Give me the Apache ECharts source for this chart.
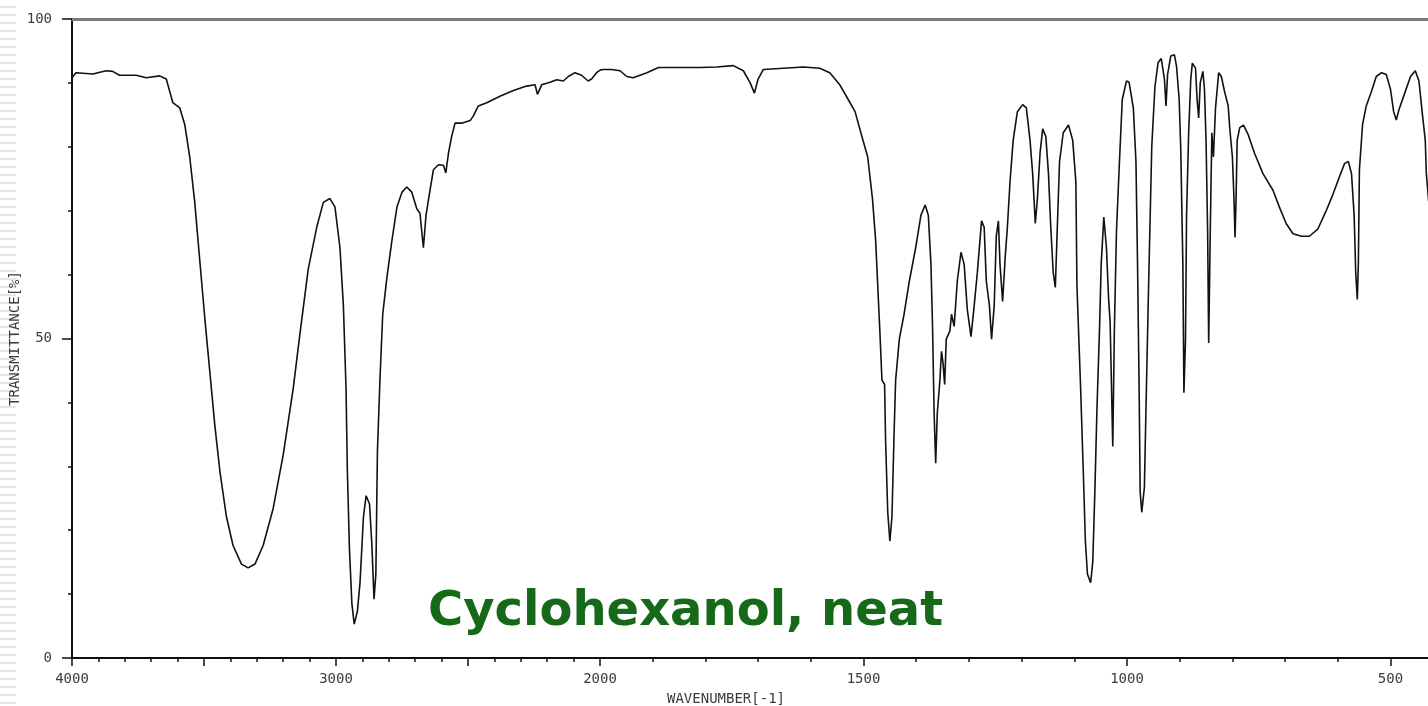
<!DOCTYPE html>
<html>
<head>
<meta charset="utf-8">
<script src="https://cdn.jsdelivr.net/npm/echarts@6/dist/echarts.min.js"></script>
<style>
  html, body { margin: 0; padding: 0; background: #ffffff; }
  #edge {
    position: absolute; left: 0; top: 0; width: 16px; height: 706px;
    background: repeating-linear-gradient(to bottom, #ffffff 0px, #ffffff 6px, #e6e6e6 6px, #e6e6e6 8px);
  }
  #chart { position: absolute; left: 0; top: 0; width: 1428px; height: 706px; }
</style>
</head>
<body>
<div id="edge"></div>
<div id="chart"></div>
<script>
// IR spectrum of cyclohexanol (neat). The wavenumber axis is split at 2000 cm-1:
// 4000-2000 is drawn at half the scale of 2000-400.

// 4000 - 2000 cm-1 region
const highWavenumber = [
  4000, 3985, 3921, 3871, 3846, 3820, 3757, 3719, 3668, 3643, 3630, 3618, 3592, 3573, 3554,
  3535, 3516, 3497, 3478, 3459, 3440, 3415, 3390, 3358, 3333, 3307, 3276, 3238, 3200, 3162,
  3137, 3105, 3073, 3048, 3023, 3004, 2985, 2972, 2962, 2957, 2949, 2940, 2931, 2919, 2909,
  2896, 2886, 2873, 2864, 2856, 2849, 2843, 2833, 2823, 2807, 2788, 2769, 2750, 2732, 2713,
  2694, 2682, 2669, 2659, 2644, 2631, 2612, 2593, 2584, 2574, 2562, 2549, 2524, 2492, 2480,
  2461, 2429, 2379, 2328, 2278, 2246, 2237, 2221, 2189, 2164, 2139, 2120, 2095, 2070, 2045,
  2032, 2013, 2000
];
const highTransmittance = [
  90.8, 91.6, 91.4, 91.9, 91.8, 91.2, 91.2, 90.8, 91.1, 90.6, 88.7, 86.9, 86.1, 83.5, 78.4,
  71.3, 62.2, 53.2, 44.8, 36.4, 29.3, 22.1, 17.6, 14.7, 14.1, 14.7, 17.6, 23.4, 31.8, 42.2,
  50.6, 60.9, 67.4, 71.3, 71.9, 70.6, 64.2, 55.1, 42.2, 29.3, 17.0, 8.6, 5.3, 7.3, 11.8,
  22.1, 25.4, 24.1, 17.6, 9.2, 13.1, 32.5, 44.1, 53.8, 59.6, 65.4, 70.6, 72.9, 73.7, 72.9,
  70.3, 69.6, 64.2, 69.3, 73.2, 76.4, 77.2, 77.1, 75.9, 79.0, 81.6, 83.7, 83.7, 84.1, 84.8,
  86.4, 86.9, 87.9, 88.8, 89.5, 89.7, 88.2, 89.7, 90.1, 90.5, 90.3, 91.0, 91.6, 91.2, 90.3,
  90.6, 91.6, 92.0
];

// 2000 - 400 cm-1 region (fingerprint)
const lowWavenumber = [
  2000, 1994, 1978, 1962, 1949, 1937, 1911, 1889, 1842, 1810, 1779, 1747, 1728, 1715, 1707,
  1700, 1690, 1652, 1614, 1583, 1564, 1545, 1529, 1516, 1503, 1492, 1483, 1477, 1473, 1469,
  1465, 1460, 1458, 1454, 1450, 1446, 1442, 1439, 1432, 1423, 1413, 1401, 1391, 1383, 1377,
  1372, 1369, 1366, 1363, 1360, 1355, 1352, 1349, 1346, 1343, 1336, 1333, 1328, 1322, 1315,
  1309, 1303, 1296, 1290, 1284, 1276, 1271, 1267, 1261, 1257, 1252, 1248, 1244, 1241, 1236,
  1231, 1227, 1222, 1216, 1208, 1198, 1191, 1184, 1179, 1174, 1170, 1165, 1160, 1154, 1149,
  1145, 1140, 1136, 1132, 1128, 1121, 1111, 1103, 1097, 1095, 1088, 1083, 1079, 1075, 1069,
  1065, 1061, 1057, 1052, 1049, 1044, 1039, 1035, 1032, 1027, 1024, 1020, 1015, 1009, 1001,
  996, 988, 983, 980, 977, 975, 972, 967, 964, 959, 953, 947, 941, 935, 929,
  926, 923, 917, 910, 906, 901, 898, 894, 892, 889, 887, 883, 879, 876, 870,
  867, 864, 861, 856, 853, 850, 847, 845, 842, 839, 836, 832, 826, 821, 815,
  808, 805, 800, 797, 795, 793, 791, 786, 779, 770, 758, 742, 723, 711, 698,
  685, 669, 654, 638, 622, 609, 596, 587, 580, 574, 569, 566, 563, 561, 559,
  553, 546, 536, 527, 517, 508, 500, 494, 489, 484, 473, 462, 453, 446, 440,
  434, 432, 426
];
const lowTransmittance = [
  92.0, 92.1, 92.1, 91.9, 91.0, 90.8, 91.6, 92.4, 92.4, 92.4, 92.5, 92.7, 91.9, 90.0, 88.4,
  90.6, 92.1, 92.3, 92.5, 92.3, 91.6, 89.7, 87.4, 85.5, 81.6, 78.4, 71.9, 65.4, 58.3, 51.2,
  43.5, 42.8, 33.8, 22.8, 18.3, 22.1, 35.1, 43.5, 49.9, 53.8, 59.0, 64.2, 69.3, 70.9, 69.3,
  61.6, 51.9, 38.3, 30.5, 38.3, 43.5, 48.0, 46.1, 42.8, 49.9, 51.2, 53.8, 51.9, 59.0, 63.5,
  61.6, 54.5, 50.3, 55.1, 60.3, 68.4, 67.4, 59.0, 55.1, 49.9, 55.1, 66.1, 68.4, 61.6, 55.8,
  62.9, 67.4, 74.5, 81.0, 85.5, 86.6, 86.1, 81.0, 75.8, 68.0, 71.9, 79.0, 82.8, 81.6, 75.8,
  68.0, 60.3, 58.0, 68.0, 77.7, 82.2, 83.4, 81.0, 74.5, 58.3, 42.2, 29.3, 18.3, 13.1, 11.8,
  15.0, 26.0, 39.0, 51.9, 61.6, 69.0, 64.2, 56.4, 52.5, 33.1, 51.2, 66.7, 76.4, 87.4, 90.3,
  90.1, 86.1, 77.7, 61.6, 42.2, 26.0, 22.8, 26.7, 39.0, 58.3, 80.0, 89.4, 93.2, 93.8, 90.6,
  86.4, 91.3, 94.2, 94.4, 92.6, 87.4, 79.7, 61.6, 41.5, 49.9, 69.3, 82.2, 90.6, 93.1, 92.3,
  87.4, 84.5, 90.0, 91.8, 89.0, 81.0, 66.7, 49.3, 66.7, 82.2, 78.4, 86.1, 91.6, 91.0, 88.7,
  86.4, 82.9, 78.4, 71.9, 65.8, 71.9, 81.0, 83.0, 83.4, 81.9, 79.0, 75.8, 73.2, 70.6, 68.0,
  66.4, 66.0, 66.0, 67.1, 70.0, 72.6, 75.5, 77.4, 77.7, 75.8, 69.3, 60.3, 56.1, 61.6, 76.4,
  83.5, 86.4, 88.7, 91.0, 91.6, 91.3, 89.0, 85.5, 84.2, 85.8, 88.4, 91.0, 91.9, 90.3, 85.5,
  81.0, 75.8, 70.0
];

const yTickLabels = { 0: '0', 50: '50', 100: '100' };
const highTickLabels = [4000, 3000, 2000];
const lowTickLabels = [1500, 1000, 500];

const chartTitle = 'Cyclohexanol, neat';
const xName = 'WAVENUMBER[-1]';
const yName = 'TRANSMITTANCE[%]';

const pair = (xs, ys) => xs.map((x, i) => [x, ys[i]]);

const ink = '#111111';
const tickFont = { fontFamily: 'DejaVu Sans Mono', fontSize: 14, color: '#3c3c3c' };

function bottomAxis(gridIndex, min, max, shown) {
  return {
    type: 'value', gridIndex, min, max, interval: 500, inverse: true, position: 'bottom',
    axisLine: { show: true, onZero: false, lineStyle: { color: ink, width: 2 } },
    axisTick: { show: true, length: 8, lineStyle: { color: ink, width: 1.5 } },
    minorTick: { show: true, splitNumber: 5, length: 4, lineStyle: { color: ink, width: 1.5 } },
    splitLine: { show: false },
    axisLabel: Object.assign({
      margin: 14, showMinLabel: true, showMaxLabel: true, hideOverlap: false,
      formatter: v => (shown.indexOf(v) >= 0 ? String(v) : '')
    }, tickFont)
  };
}

function topAxis(gridIndex, min, max) {
  return {
    type: 'value', gridIndex, min, max, inverse: true, position: 'top',
    axisLine: { show: true, onZero: false, lineStyle: { color: '#7a7a7a', width: 3 } },
    axisTick: { show: false }, axisLabel: { show: false }, splitLine: { show: false }
  };
}

const chart = echarts.init(document.getElementById('chart'), null, { renderer: 'canvas' });

chart.setOption({
  animation: false,
  backgroundColor: 'transparent',
  grid: [
    { left: 72, top: 19, width: 528, height: 639, outerBoundsMode: 'none', containLabel: false },
    { left: 600, top: 19, width: 1054, height: 639, outerBoundsMode: 'none', containLabel: false }
  ],
  xAxis: [
    bottomAxis(0, 2000, 4000, highTickLabels),
    bottomAxis(1, 0, 2000, lowTickLabels),
    topAxis(0, 2000, 4000),
    topAxis(1, 0, 2000)
  ],
  yAxis: [
    {
      type: 'value', gridIndex: 0, min: 0, max: 100, interval: 50,
      name: yName, nameLocation: 'middle', nameGap: 44,
      nameTextStyle: { fontFamily: 'DejaVu Sans Mono', fontSize: 14, color: '#3c3c3c' },
      axisLine: { show: true, onZero: false, lineStyle: { color: ink, width: 2 } },
      axisTick: { show: true, length: 10, lineStyle: { color: ink, width: 1.5 } },
      minorTick: { show: true, splitNumber: 5, length: 4, lineStyle: { color: ink, width: 1.5 } },
      splitLine: { show: false },
      axisLabel: Object.assign({ margin: 20, formatter: v => yTickLabels[v] || '' }, tickFont)
    },
    { type: 'value', gridIndex: 1, min: 0, max: 100, show: false }
  ],
  series: [
    {
      type: 'line', xAxisIndex: 0, yAxisIndex: 0,
      data: pair(highWavenumber, highTransmittance),
      showSymbol: false, smooth: false,
      lineStyle: { color: ink, width: 1.6 }
    },
    {
      type: 'line', xAxisIndex: 1, yAxisIndex: 1,
      data: pair(lowWavenumber, lowTransmittance),
      showSymbol: false, smooth: false,
      lineStyle: { color: ink, width: 1.6 }
    }
  ],
  graphic: [
    {
      type: 'text', left: 428, top: 589,
      style: { text: chartTitle, font: 'bold 48px "DejaVu Sans"', fill: '#17691a' }
    },
    {
      type: 'text', left: 667, top: 692,
      style: { text: xName, font: '14px "DejaVu Sans Mono"', fill: '#3c3c3c' }
    }
  ]
});
</script>
</body>
</html>
